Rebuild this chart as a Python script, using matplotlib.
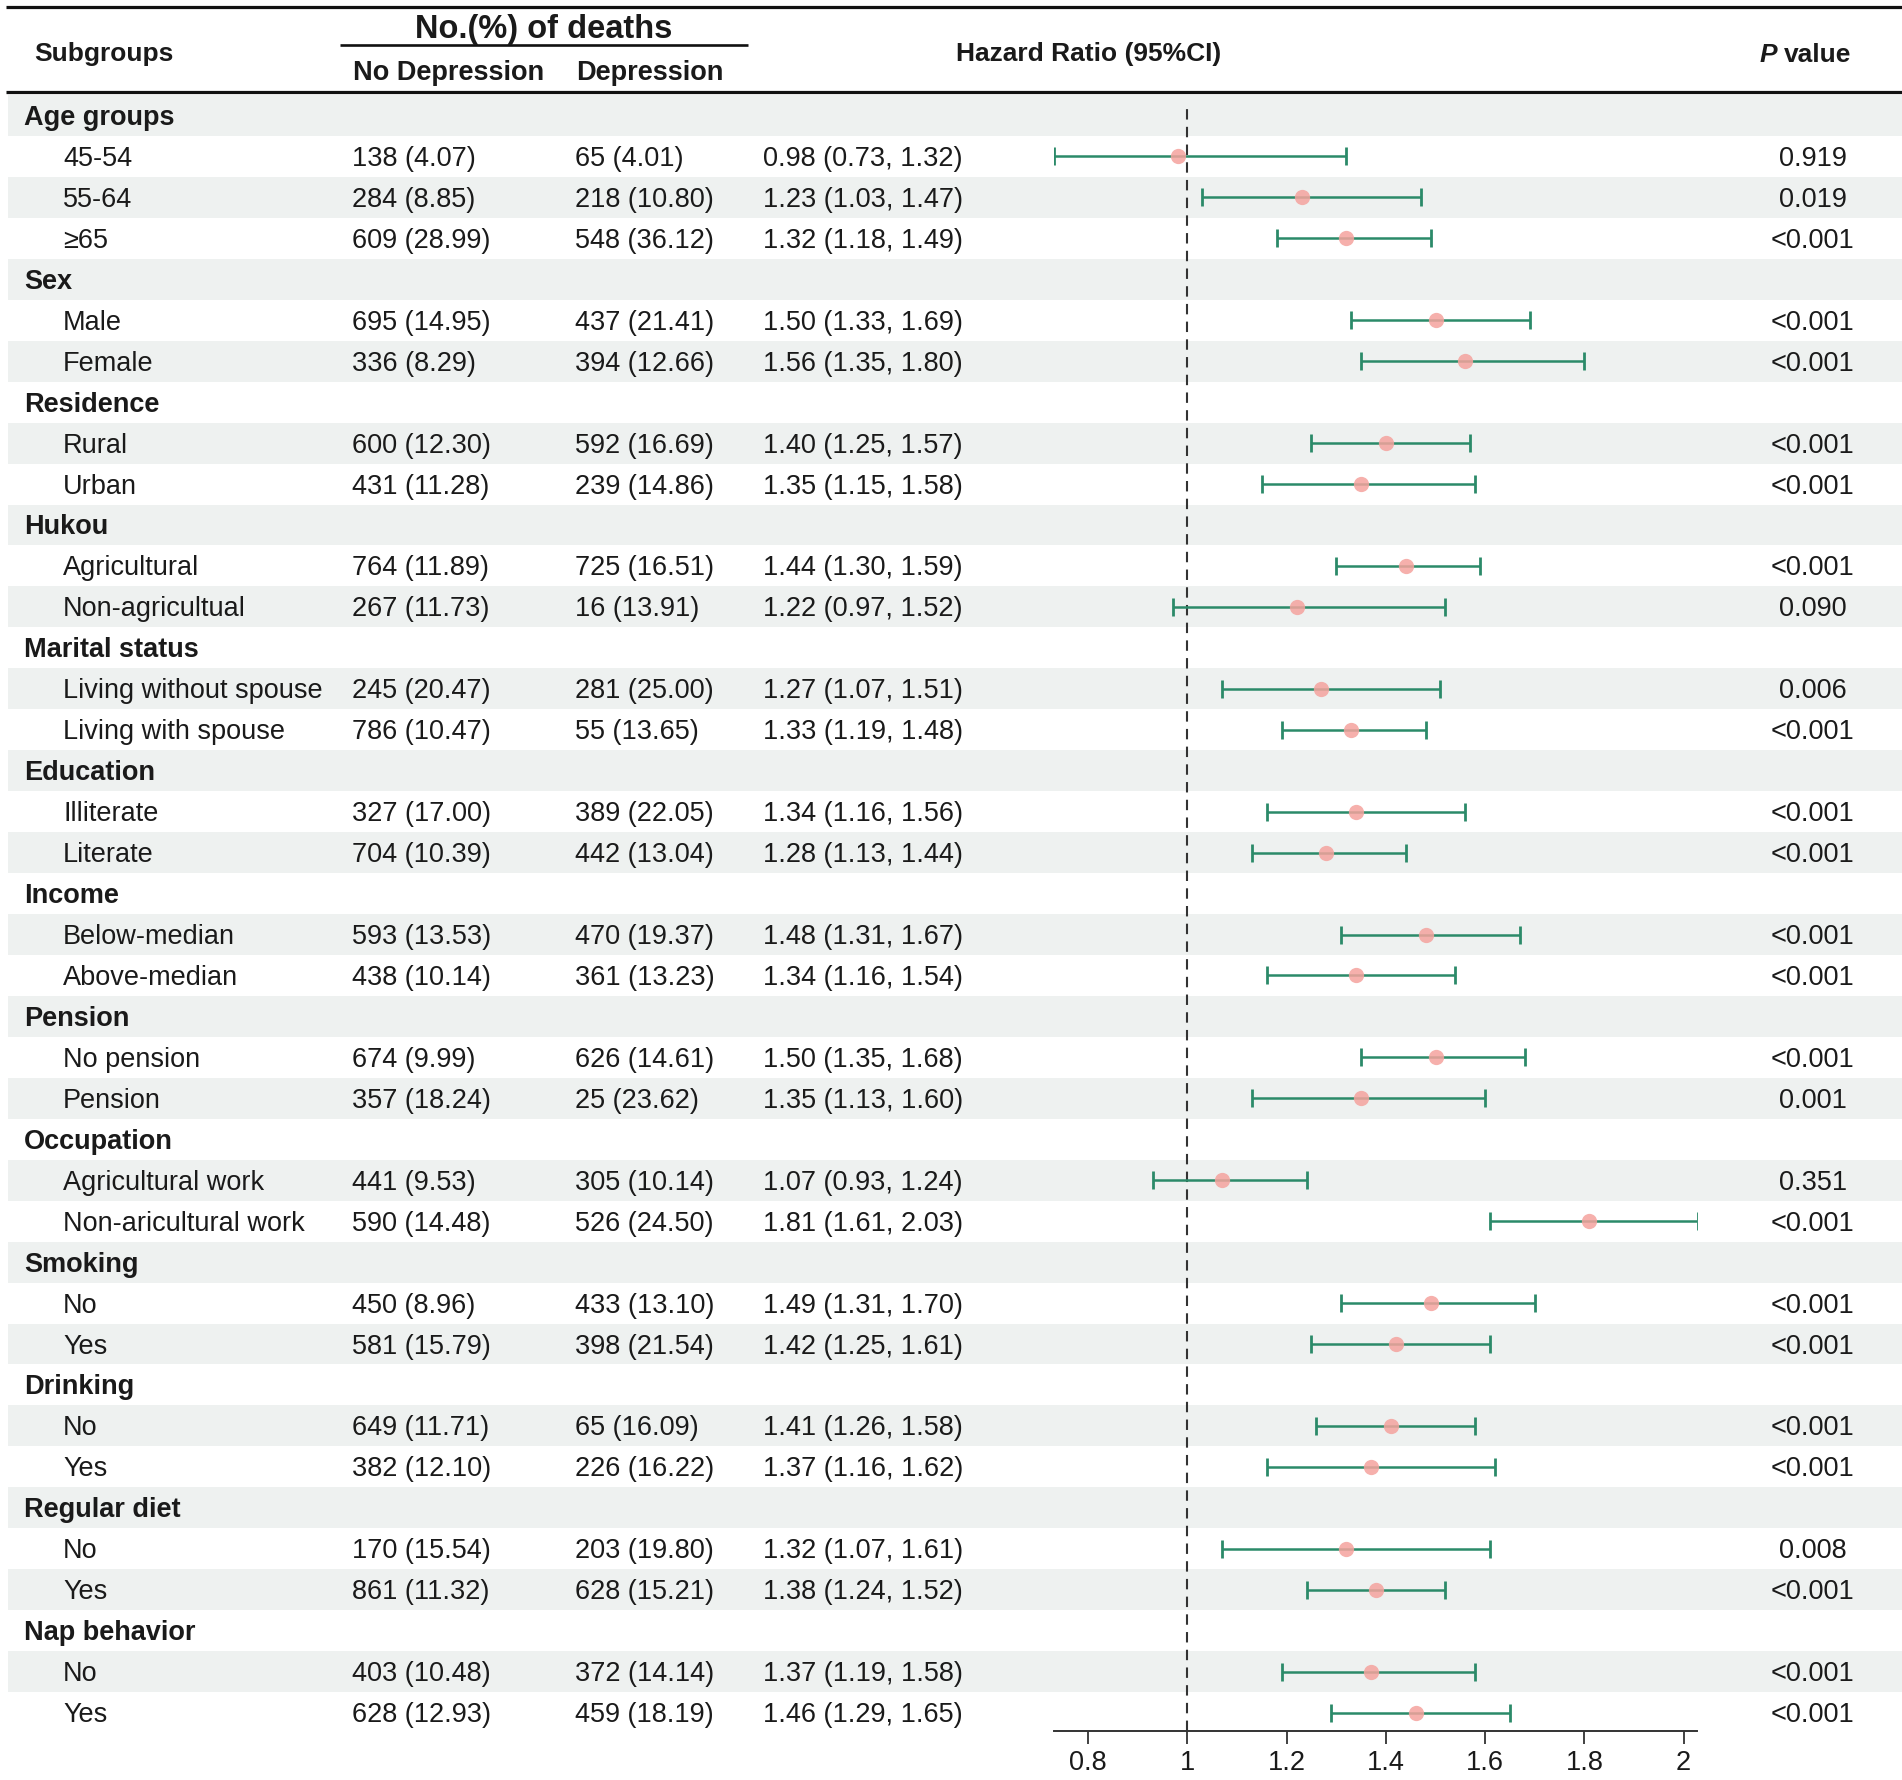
import matplotlib
matplotlib.use('Agg')
import matplotlib.pyplot as plt
from matplotlib.ticker import FuncFormatter

plt.rcParams['font.family'] = ['Liberation Sans', 'DejaVu Sans']

# data
groups = ['Age groups', 'Sex', 'Residence', 'Hukou', 'Marital status', 'Education',
          'Income', 'Pension', 'Occupation', 'Smoking', 'Drinking', 'Regular diet',
          'Nap behavior']
group_sizes = [3, 2, 2, 2, 2, 2, 2, 2, 2, 2, 2, 2, 2]
labels = ['45-54', '55-64', '≥65', 'Male', 'Female', 'Rural', 'Urban',
          'Agricultural', 'Non-agricultual', 'Living without spouse', 'Living with spouse',
          'Illiterate', 'Literate', 'Below-median', 'Above-median', 'No pension', 'Pension',
          'Agricultural work', 'Non-aricultural work', 'No', 'Yes', 'No', 'Yes',
          'No', 'Yes', 'No', 'Yes']
nodep_n = [138, 284, 609, 695, 336, 600, 431, 764, 267, 245, 786, 327, 704, 593, 438,
           674, 357, 441, 590, 450, 581, 649, 382, 170, 861, 403, 628]
nodep_pct = [4.07, 8.85, 28.99, 14.95, 8.29, 12.30, 11.28, 11.89, 11.73, 20.47, 10.47,
             17.00, 10.39, 13.53, 10.14, 9.99, 18.24, 9.53, 14.48, 8.96, 15.79, 11.71,
             12.10, 15.54, 11.32, 10.48, 12.93]
dep_n = [65, 218, 548, 437, 394, 592, 239, 725, 16, 281, 55, 389, 442, 470, 361,
         626, 25, 305, 526, 433, 398, 65, 226, 203, 628, 372, 459]
dep_pct = [4.01, 10.80, 36.12, 21.41, 12.66, 16.69, 14.86, 16.51, 13.91, 25.00, 13.65,
           22.05, 13.04, 19.37, 13.23, 14.61, 23.62, 10.14, 24.50, 13.10, 21.54, 16.09,
           16.22, 19.80, 15.21, 14.14, 18.19]
hr = [0.98, 1.23, 1.32, 1.50, 1.56, 1.40, 1.35, 1.44, 1.22, 1.27, 1.33, 1.34, 1.28,
      1.48, 1.34, 1.50, 1.35, 1.07, 1.81, 1.49, 1.42, 1.41, 1.37, 1.32, 1.38, 1.37, 1.46]
ci_low = [0.73, 1.03, 1.18, 1.33, 1.35, 1.25, 1.15, 1.30, 0.97, 1.07, 1.19, 1.16, 1.13,
          1.31, 1.16, 1.35, 1.13, 0.93, 1.61, 1.31, 1.25, 1.26, 1.16, 1.07, 1.24, 1.19, 1.29]
ci_high = [1.32, 1.47, 1.49, 1.69, 1.80, 1.57, 1.58, 1.59, 1.52, 1.51, 1.48, 1.56, 1.44,
           1.67, 1.54, 1.68, 1.60, 1.24, 2.03, 1.70, 1.61, 1.58, 1.62, 1.61, 1.52, 1.58, 1.65]
p_values = ['0.919', '0.019', '<0.001', '<0.001', '<0.001', '<0.001', '<0.001', '<0.001',
            '0.090', '0.006', '<0.001', '<0.001', '<0.001', '<0.001', '<0.001', '<0.001',
            '0.001', '0.351', '<0.001', '<0.001', '<0.001', '<0.001', '<0.001', '0.008',
            '<0.001', '<0.001', '<0.001']

W, H = 1902, 1780
row0, row_h = 115.5, 40.95
dy = 2.5  # text sits a touch lower than the row centre
txt = '#1a1a1a'
fs = 19.5

fig = plt.figure(figsize=(W / 100, H / 100), dpi=100)
ax_bg = fig.add_axes([0, 0, 1, 1], zorder=0)
ax_bg.set_xlim(0, W)
ax_bg.set_ylim(H, 0)
ax_bg.axis('off')

# build row list: group header rows and subgroup rows
row_kind = []
k = 0
for g, n in zip(groups, group_sizes):
    row_kind.append(('g', g))
    for _ in range(n):
        row_kind.append(('s', k))
        k += 1

row_y = [row0 + i * row_h for i in range(len(row_kind))]

# zebra shading
shade_y = [y for i, y in enumerate(row_y) if i % 2 == 0]
ax_bg.barh(shade_y, width=W - 8, left=8, height=row_h, color='#eef1f0', zorder=0)

# header rules
ax_bg.plot([6, W], [7, 7], color='#111111', lw=2.3, solid_capstyle='butt')
ax_bg.plot([6, W], [92, 92], color='#111111', lw=2.3, solid_capstyle='butt')
ax_bg.plot([340, 748], [45, 45], color='#111111', lw=1.9, solid_capstyle='butt')

ax_bg.text(544, 27 + dy, 'No.(%) of deaths', fontsize=23.5, fontweight='bold', color=txt,
           ha='center', va='center')
ax_bg.text(104, 52 + dy, 'Subgroups', fontsize=fs - 0.5, fontweight='bold', color=txt,
           ha='center', va='center')
ax_bg.text(449, 70 + dy, 'No Depression', fontsize=fs, fontweight='bold', color=txt,
           ha='center', va='center')
ax_bg.text(650, 70 + dy, 'Depression', fontsize=fs, fontweight='bold', color=txt,
           ha='center', va='center')
ax_bg.text(1089, 52 + dy, 'Hazard Ratio (95%CI)', fontsize=fs - 0.5, fontweight='bold',
           color=txt, ha='center', va='center')
pv = ax_bg.text(1851, 52 + dy, 'value', fontsize=fs - 0.5, fontweight='bold', color=txt,
                ha='right', va='center')
ax_bg.annotate('P', xy=(0, 0.5), xycoords=pv, xytext=(-5, 0), textcoords='offset points',
               fontsize=fs - 0.5, fontweight='bold', fontstyle='italic', color=txt,
               ha='right', va='center')

for (kind, v), y in zip(row_kind, row_y):
    ty = y + dy
    if kind == 'g':
        ax_bg.text(24, ty, v, fontsize=fs, fontweight='bold', color=txt, va='center')
    else:
        ax_bg.text(63, ty, labels[v], fontsize=fs, color=txt, va='center')
        ax_bg.text(352, ty, f'{nodep_n[v]} ({nodep_pct[v]:.2f})', fontsize=fs, color=txt,
                   va='center')
        ax_bg.text(575, ty, f'{dep_n[v]} ({dep_pct[v]:.2f})', fontsize=fs, color=txt,
                   va='center')
        ax_bg.text(763, ty, f'{hr[v]:.2f} ({ci_low[v]:.2f}, {ci_high[v]:.2f})', fontsize=fs,
                   color=txt, va='center')
        ax_bg.text(1813, ty, p_values[v], fontsize=fs, color=txt, ha='center', va='center')

# forest plot axes
x_left, x_right, y_top, y_axis = 1054, 1697, 92, 1731
ax = fig.add_axes([x_left / W, (H - y_axis) / H, (x_right - x_left) / W, (y_axis - y_top) / H],
                  zorder=1)
ax.patch.set_alpha(0)
ybot = (y_axis - row0) / row_h
ytop = (y_top - row0) / row_h
ax.set_ylim(ybot, ytop)
ax.set_xlim(0.731, 2.027)

sub_idx = [i for i, (kind, _) in enumerate(row_kind) if kind == 's']
xerr = [[h - l for h, l in zip(hr, ci_low)], [u - h for h, u in zip(hr, ci_high)]]
ax.plot([1, 1], [ybot, -0.15], color='#333333', lw=1.5, dashes=(5, 3.5), zorder=1)
ax.errorbar(hr, sub_idx, xerr=xerr, fmt='none', ecolor='#2b8a69', elinewidth=1.8,
            capsize=6.5, capthick=2.0, zorder=2)
ax.plot(hr, sub_idx, 'o', color='#f5a39e', alpha=0.85, markersize=11, mec='none', zorder=3)

for s in ['left', 'right', 'top']:
    ax.spines[s].set_visible(False)
ax.spines['bottom'].set_color('#333333')
ax.spines['bottom'].set_linewidth(1.4)
ax.set_yticks([])
ax.set_xticks([0.8, 1.0, 1.2, 1.4, 1.6, 1.8, 2.0])
ax.xaxis.set_major_formatter(FuncFormatter(lambda x, p: f'{x:g}'))
ax.tick_params(axis='x', direction='out', length=9, width=1.3, color='#333333',
               labelsize=fs, labelcolor=txt, pad=5)

fig.savefig('out.png', dpi=100)
